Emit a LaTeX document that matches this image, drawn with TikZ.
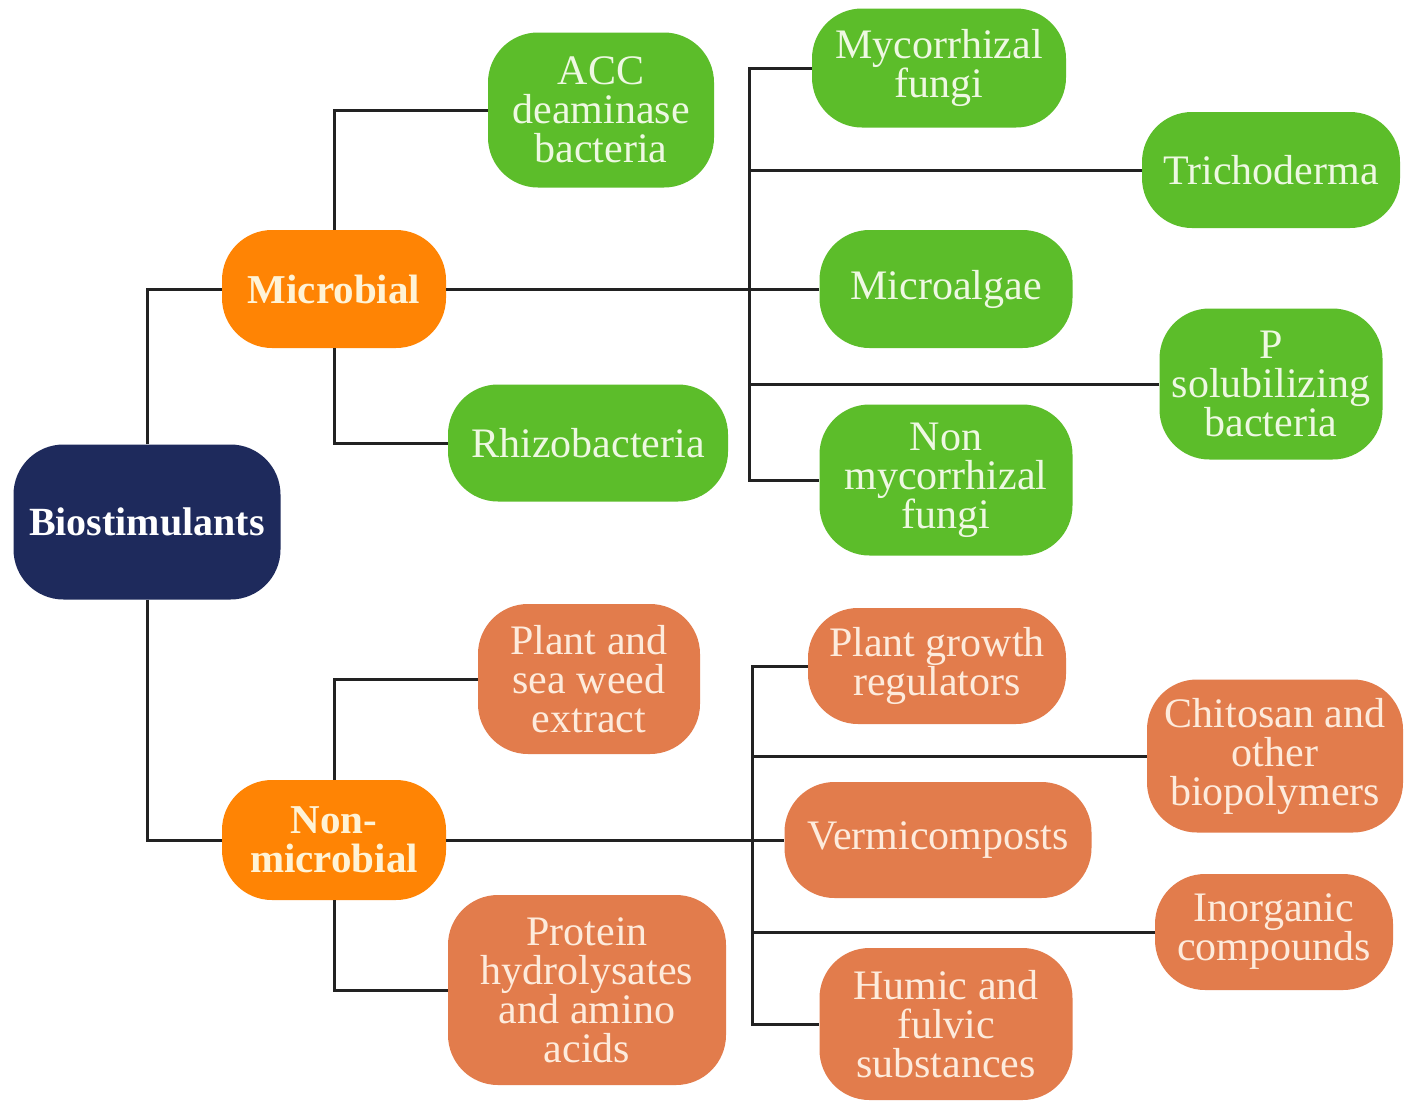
\documentclass[tikz,border=0pt]{standalone}
\usepackage{fontspec}
\setmainfont{Liberation Serif}
\begin{document}
\begin{tikzpicture}[x=1pt,y=-1pt,
  box/.style={rectangle,rounded corners=50pt,align=center,inner sep=0pt,
    font=\fontsize{42}{39}\selectfont},
  navybox/.style={box,fill=navy,text=white,font=\bfseries\fontsize{40}{40}\selectfont},
  orbox/.style={box,fill=brightorange,text=paleyellow,font=\bfseries\fontsize{41}{39}\selectfont},
  grbox/.style={box,fill=leafgreen,text=palegreen},
  sabox/.style={box,fill=salmon,text=palepeach},
  link/.style={draw=linegray,line width=3pt}]
\definecolor{navy}{HTML}{1E2A5C}
\definecolor{brightorange}{HTML}{FF8404}
\definecolor{paleyellow}{HTML}{FFF3D6}
\definecolor{leafgreen}{HTML}{5CBD2A}
\definecolor{palegreen}{HTML}{EEF8E2}
\definecolor{salmon}{HTML}{E27C4C}
\definecolor{palepeach}{HTML}{FDEBDC}
\definecolor{linegray}{HTML}{222222}
\useasboundingbox[fill=white] (0,0) rectangle (1409,1109);

% main nodes
\node[navybox,minimum width=267pt,minimum height=155pt] (bio) at (147,522) {Biostimulants};
\node[orbox,minimum width=224pt,minimum height=118pt] (mic) at (334,289) {Microbial};
\node[orbox,minimum width=224pt,minimum height=120pt] (nonmic) at (334,840) {Non-\\microbial};

% microbial children
\node[grbox,minimum width=226pt,minimum height=155pt] (acc) at (601,110) {ACC\\deaminase\\bacteria};
\node[grbox,minimum width=280pt,minimum height=117pt] (rhizo) at (588,443) {Rhizobacteria};
\node[grbox,minimum width=254pt,minimum height=119pt] (myc) at (939,68) {Mycorrhizal\\fungi};
\node[grbox,minimum width=258pt,minimum height=116pt] (tricho) at (1271,170) {Trichoderma};
\node[grbox,minimum width=253pt,minimum height=118pt] (micalg) at (946,289) {Microalgae};
\node[grbox,minimum width=223pt,minimum height=151pt] (psol) at (1271,384) {P\\solubilizing\\bacteria};
\node[grbox,minimum width=253pt,minimum height=151pt] (nonmyc) at (946,480) {Non\\mycorrhizal\\fungi};

% non-microbial children
\node[sabox,minimum width=222pt,minimum height=150pt] (plant) at (589,679) {Plant and\\sea weed\\extract};
\node[sabox,minimum width=278pt,minimum height=190pt] (prot) at (587,990) {Protein\\hydrolysates\\and amino\\acids};
\node[sabox,minimum width=258pt,minimum height=116pt] (pgr) at (937,666) {Plant growth\\regulators};
\node[sabox,minimum width=256pt,minimum height=153pt] (chit) at (1275,756) {Chitosan and\\other\\biopolymers};
\node[sabox,minimum width=307pt,minimum height=116pt] (verm) at (938,840) {Vermicomposts};
\node[sabox,minimum width=238pt,minimum height=116pt] (inorg) at (1274,932) {Inorganic\\compounds};
\node[sabox,minimum width=253pt,minimum height=152pt] (humic) at (946,1024) {Humic and\\fulvic\\substances};

% trunk coordinates
\coordinate (mtop) at (749,68);
\coordinate (mbot) at (749,480);
\coordinate (ntop) at (752,666);
\coordinate (nbot) at (752,1024);

% connectors: root
\draw[link] (bio.north) |- (mic.west);
\draw[link] (bio.south) |- (nonmic.west);

% microbial
\draw[link] (mic.north) |- (acc.west);
\draw[link] (mic.south) |- (rhizo.west);
\draw[link] (mic.east) -- (micalg.west);
\draw[link] (myc.west) -- (mtop) -- (mbot) -- (nonmyc.west);
\draw[link] (tricho.west) -- (tricho.west -| mtop);
\draw[link] (psol.west) -- (psol.west -| mtop);

% non-microbial
\draw[link] (nonmic.north) |- (plant.west);
\draw[link] (nonmic.south) |- (prot.west);
\draw[link] (nonmic.east) -- (verm.west);
\draw[link] (pgr.west) -- (ntop) -- (nbot) -- (humic.west);
\draw[link] (chit.west) -- (chit.west -| ntop);
\draw[link] (inorg.west) -- (inorg.west -| ntop);
\end{tikzpicture}
\end{document}
